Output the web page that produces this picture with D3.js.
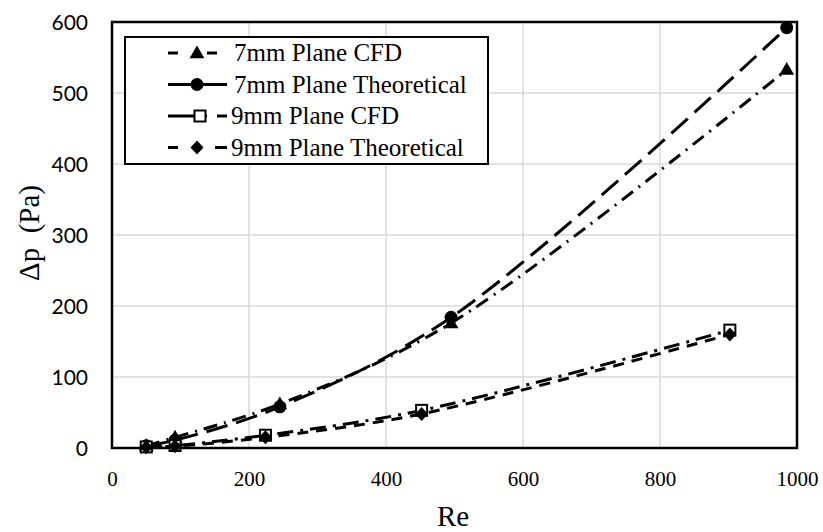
<!DOCTYPE html>
<html><head><meta charset="utf-8">
<script src="https://cdn.jsdelivr.net/npm/d3@7"></script>
<style>body{margin:0;background:#fff}svg{display:block}</style>
</head><body>
<svg id="c" width="823" height="532"></svg>
<script>
// ---- data ----
const re7 = [50, 92, 245, 495, 985];
const cfd7 = [3, 15, 62, 176, 533];
const theo7 = [3, 11, 58, 184, 592];
const re9 = [50, 92, 224, 452, 902];
const cfd9 = [1.5, 3.5, 18, 53, 166];
const theo9 = [1, 2.5, 15, 48, 160];
const seriesNames = ["7mm Plane CFD", "7mm Plane Theoretical", "9mm Plane CFD", "9mm Plane Theoretical"];
const xTicks = [0, 200, 400, 600, 800, 1000];
const yTicks = [0, 100, 200, 300, 400, 500, 600];

const series = [
  {name: seriesNames[0], x: re7, y: cfd7, sym: "tri", dash: "14,7,2,7", leg: "10,29,10", lx2: 217},
  {name: seriesNames[1], x: re7, y: theo7, sym: "circ", dash: "22,9", leg: null, lx2: 227},
  {name: seriesNames[2], x: re9, y: cfd9, sym: "sq", dash: "16,7,3,7", leg: "39,10,10", lx2: 227},
  {name: seriesNames[3], x: re9, y: theo9, sym: "dia", dash: "11,8", leg: "10,37,12", lx2: 227}
];

const SERIF = "'Liberation Serif', 'Times New Roman', serif";
const svg = d3.select("#c");
const L = 112, R = 797, T = 22, B = 448;
const x = d3.scaleLinear().domain([0, 1000]).range([L, R]);
const y = d3.scaleLinear().domain([0, 600]).range([B, T]);

// grid
const g = svg.append("g");
g.selectAll("line.gx").data(xTicks.slice(1, -1)).join("line")
  .attr("x1", d => x(d)).attr("x2", d => x(d)).attr("y1", T).attr("y2", B)
  .attr("stroke", "#d9d9d9").attr("stroke-width", 1.5);
g.selectAll("line.gy").data(yTicks.slice(1, -1)).join("line")
  .attr("y1", d => y(d)).attr("y2", d => y(d)).attr("x1", L).attr("x2", R)
  .attr("stroke", "#d9d9d9").attr("stroke-width", 1.5);

// tick labels via axes
const xAxis = svg.append("g").attr("transform", `translate(0,${B})`)
  .call(d3.axisBottom(x).tickValues(xTicks).tickFormat(d3.format("d")).tickSize(0).tickPadding(38));
xAxis.select(".domain").remove();
xAxis.attr("font-family", null);
xAxis.selectAll("text").style("font-family", SERIF)
  .style("font-size", "21px").attr("fill", "#000").attr("dy", 0);
const yAxis = svg.append("g").attr("transform", `translate(${L},0)`)
  .call(d3.axisLeft(y).tickValues(yTicks).tickSize(0).tickPadding(24));
yAxis.select(".domain").remove();
yAxis.selectAll("text").style("font-family", "Lato, 'Open Sans', sans-serif")
  .style("font-size", "21px").attr("fill", "#000").attr("dy", "0.36em");

// axis titles
svg.append("text").attr("x", 453).attr("y", 526).attr("text-anchor", "middle")
  .style("font-family", SERIF).style("font-size", "29px").text("Re");
svg.append("text").attr("transform", "translate(39,233) rotate(-90)").attr("text-anchor", "middle")
  .style("font-family", SERIF).style("font-size", "29px")
  .style("white-space", "pre").text("Δp  (Pa)");

// lines
const line = d3.line().x(d => x(d[0])).y(d => y(d[1])).curve(d3.curveCatmullRom.alpha(0.5));
series.forEach(s => {
  const pts = s.x.map((v, i) => [v, s.y[i]]);
  svg.append("path").attr("d", line(pts)).attr("fill", "none").attr("stroke", "#000")
    .attr("stroke-width", 3).attr("stroke-dasharray", s.dash);
});

function marker(sel, sym, cx, cy) {
  if (sym === "tri") sel.append("path").attr("d", d3.symbol(d3.symbolTriangle, 95)()).attr("transform", `translate(${cx},${cy + 1})`).attr("fill", "#000");
  else if (sym === "circ") sel.append("circle").attr("cx", cx).attr("cy", cy).attr("r", 6.5).attr("fill", "#000");
  else if (sym === "sq") sel.append("rect").attr("x", cx - 5.5).attr("y", cy - 5.5).attr("width", 11).attr("height", 11).attr("fill", "#fff").attr("stroke", "#000").attr("stroke-width", 2);
  else if (sym === "dia") sel.append("path").attr("d", "M0,-7L6.5,0L0,7L-6.5,0Z").attr("transform", `translate(${cx},${cy})`).attr("fill", "#000");
}
series.forEach(s => {
  s.x.forEach((v, i) => marker(svg, s.sym, x(v), y(s.y[i])));
});

// plot border
svg.append("rect").attr("x", L).attr("y", T).attr("width", R - L).attr("height", B - T)
  .attr("fill", "none").attr("stroke", "#000").attr("stroke-width", 2.5);

// legend
const lg = svg.append("g");
lg.append("rect").attr("x", 125).attr("y", 37).attr("width", 363).attr("height", 127)
  .attr("fill", "#fff").attr("stroke", "#000").attr("stroke-width", 2);
series.forEach((s, i) => {
  const cy = 53 + i * 31.5;
  lg.append("line").attr("x1", 168).attr("x2", s.lx2).attr("y1", cy).attr("y2", cy)
    .attr("stroke", "#000").attr("stroke-width", 3)
    .attr("stroke-dasharray", s.leg);
  marker(lg, s.sym, i === 2 ? 200 : 197, cy);
  lg.append("text").attr("x", i < 2 ? 234 : 231).attr("y", cy + 8)
    .style("font-family", SERIF).style("font-size", "25px").text(s.name);
});
</script>
</body></html>
